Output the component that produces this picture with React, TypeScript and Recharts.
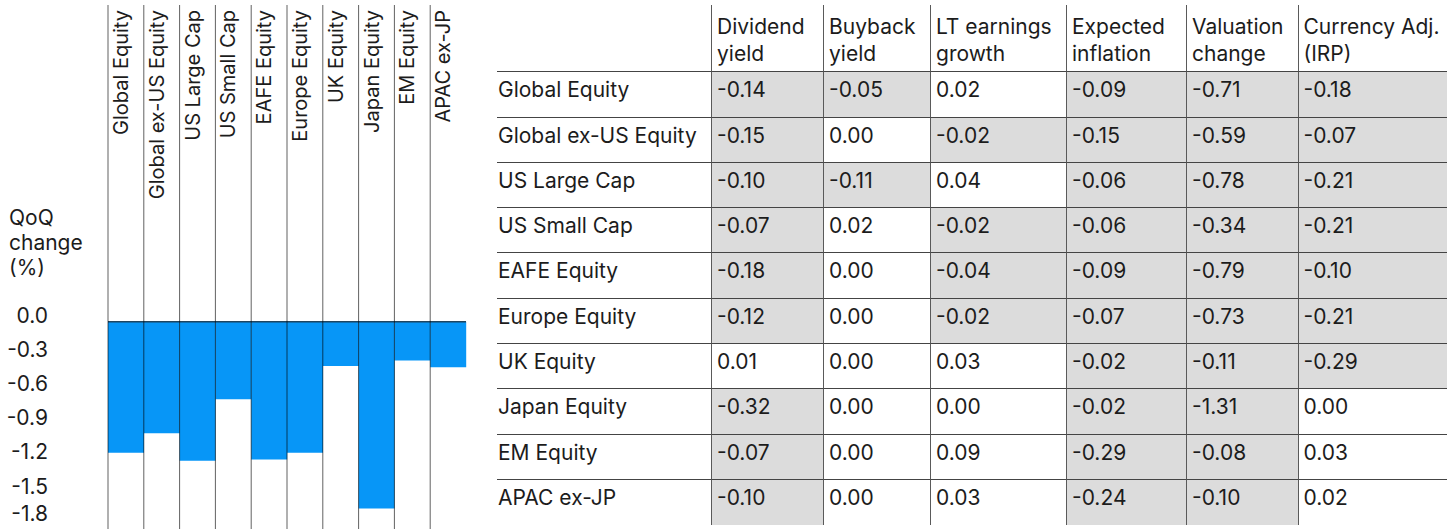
import React from 'react';
import { BarChart, Bar, XAxis, YAxis, ReferenceLine } from 'recharts';

const categories = [
  'Global Equity',
  'Global ex-US Equity',
  'US Large Cap',
  'US Small Cap',
  'EAFE Equity',
  'Europe Equity',
  'UK Equity',
  'Japan Equity',
  'EM Equity',
  'APAC ex-JP',
];
const qoqChange = [-1.15, -0.98, -1.22, -0.68, -1.21, -1.15, -0.39, -1.64, -0.34, -0.4];
const yTicks = [0, -0.3, -0.6, -0.9, -1.2, -1.5, -1.8];

const columnHeaders = [
  ['Dividend', 'yield'],
  ['Buyback', 'yield'],
  ['LT earnings', 'growth'],
  ['Expected', 'inflation'],
  ['Valuation', 'change'],
  ['Currency Adj.', '(IRP)'],
];
const dividendYield = [-0.14, -0.15, -0.1, -0.07, -0.18, -0.12, 0.01, -0.32, -0.07, -0.1];
const buybackYield = [-0.05, 0.0, -0.11, 0.02, 0.0, 0.0, 0.0, 0.0, 0.0, 0.0];
const ltEarningsGrowth = [0.02, -0.02, 0.04, -0.02, -0.04, -0.02, 0.03, 0.0, 0.09, 0.03];
const expectedInflation = [-0.09, -0.15, -0.06, -0.06, -0.09, -0.07, -0.02, -0.02, -0.29, -0.24];
const valuationChange = [-0.71, -0.59, -0.78, -0.34, -0.79, -0.73, -0.11, -1.31, -0.08, -0.1];
const currencyAdj = [-0.18, -0.07, -0.21, -0.21, -0.1, -0.21, -0.29, 0.0, 0.03, 0.02];

const tableColumns = [dividendYield, buybackYield, ltEarningsGrowth, expectedInflation, valuationChange, currencyAdj];

const FONT = 'Inter, "Noto Sans", sans-serif';
const FS = 21;
const TEXT = '#1c1c1c';
const BAR = '#0796F7';
const SHADE = '#dcdcdc';

const chartData = categories.map((name, i) => ({ name, value: qoqChange[i] }));

const XTick = (props: any) => {
  const { x, y, payload } = props;
  return (
    <text
      transform={`translate(${x + 2},${y + 5}) rotate(-90)`}
      textAnchor="end"
      fontSize={20}
      fontFamily={FONT}
      fill={TEXT}
    >
      {payload.value}
    </text>
  );
};

const YTick = (props: any) => {
  const { x, y, payload } = props;
  return (
    <text x={x} y={y} dy={1} textAnchor="end" fontSize={FS} fontFamily={FONT} fill={TEXT}>
      {Number(payload.value).toFixed(1)}
    </text>
  );
};

const colWidths = [214, 112, 107, 136, 120, 111.5, 149.5];
const HEADER_H = 67.3;
const ROW_H = 45.3;
const VLINE = '1px solid #5a5a5a';
const HLINE = '1px solid #444';

export default function App() {
  return (
    <div
      style={{
        position: 'absolute',
        left: 0,
        top: 0,
        width: 1455,
        height: 529,
        overflow: 'hidden',
        background: '#fff',
        fontFamily: FONT,
        color: TEXT,
      }}
    >
      <div
        style={{
          position: 'absolute',
          left: 9,
          top: 205,
          fontSize: FS,
          lineHeight: '25px',
        }}
      >
        QoQ
        <br />
        change
        <br />
        (%)
      </div>
      <div style={{ position: 'absolute', left: 0, top: 0 }}>
        <BarChart
          width={480}
          height={529}
          data={chartData}
          margin={{ top: 5, right: 14, bottom: 0, left: 48 }}
          barCategoryGap={0}
        >
          <XAxis
            dataKey="name"
            orientation="top"
            mirror
            axisLine={false}
            tickLine={false}
            tickSize={0}
            tickMargin={0}
            interval={0}
            tick={<XTick />}
          />
          <YAxis
            type="number"
            width={60}
            domain={[-1.82, 2.78]}
            ticks={yTicks}
            allowDataOverflow
            axisLine={false}
            tickLine={false}
            tickSize={0}
            tickMargin={60}
            tick={<YTick />}
          />
          <Bar dataKey="value" fill={BAR} isAnimationActive={false} />
          <ReferenceLine y={0} stroke="#1f4560" strokeWidth={1.5} />
          {categories.map((c) => (
            <ReferenceLine key={c} x={c} position="start" stroke="#000" strokeOpacity={0.62} strokeWidth={1} />
          ))}
        </BarChart>
      </div>
      <div style={{ position: 'absolute', left: 497, top: 5, width: 950, fontSize: FS }}>
        <div style={{ display: 'flex', height: HEADER_H }}>
          <div style={{ width: colWidths[0], boxSizing: 'border-box', borderBottom: HLINE }} />
          {columnHeaders.map((h, j) => (
            <div
              key={j}
              style={{
                width: colWidths[j + 1],
                boxSizing: 'border-box',
                borderLeft: VLINE,
                borderBottom: HLINE,
                display: 'flex',
                flexDirection: 'column',
                justifyContent: 'flex-end',
                paddingLeft: 5,
                paddingBottom: 4,
                lineHeight: '26.5px',
                whiteSpace: 'nowrap',
              }}
            >
              <div>{h[0]}</div>
              <div>{h[1]}</div>
            </div>
          ))}
        </div>
        {categories.map((cat, i) => (
          <div key={cat} style={{ display: 'flex', height: ROW_H }}>
            <div
              style={{
                width: colWidths[0],
                boxSizing: 'border-box',
                borderBottom: i < categories.length - 1 ? HLINE : 'none',
                paddingLeft: 1,
                paddingTop: 5,
                lineHeight: '26px',
                whiteSpace: 'nowrap',
              }}
            >
              {cat}
            </div>
            {tableColumns.map((col, j) => (
              <div
                key={j}
                style={{
                  width: colWidths[j + 1],
                  boxSizing: 'border-box',
                  borderLeft: VLINE,
                  borderBottom: i < categories.length - 1 ? HLINE : 'none',
                  background: col[i] < 0 ? SHADE : '#fff',
                  paddingLeft: 5,
                  paddingTop: 5,
                  lineHeight: '26px',
                  whiteSpace: 'nowrap',
                }}
              >
                {col[i].toFixed(2)}
              </div>
            ))}
          </div>
        ))}
      </div>
    </div>
  );
}
